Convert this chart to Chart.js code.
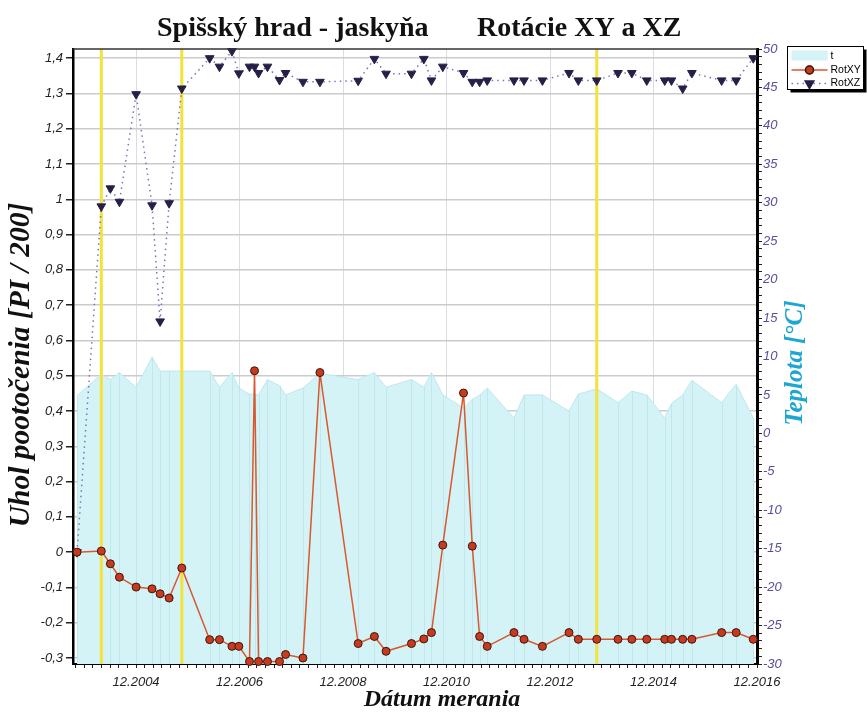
<!DOCTYPE html>
<html>
<head>
<meta charset="utf-8">
<title>Spišský hrad - jaskyňa</title>
<script src="https://cdn.jsdelivr.net/npm/chart.js@4.4.1/dist/chart.umd.min.js"></script>
<style>
  html, body { margin: 0; padding: 0; background: #fff; }
  canvas { display: block; }
</style>
</head>
<body>
<canvas id="chart" width="867" height="713"></canvas>
<script>
// measurement dates, shared by all three series
const dates = [
  '2003-10-10', '2004-03-29', '2004-06-02', '2004-08-05', '2004-12-01', '2005-03-22',
  '2005-05-18', '2005-07-21', '2005-10-19', '2006-05-03', '2006-07-11', '2006-10-08',
  '2006-11-26', '2007-02-10', '2007-03-15', '2007-04-13', '2007-06-15', '2007-09-09',
  '2007-10-21', '2008-02-22', '2008-06-20', '2009-03-16', '2009-07-09', '2009-09-30',
  '2010-03-27', '2010-06-23', '2010-08-16', '2010-11-05', '2011-03-29', '2011-05-30',
  '2011-07-21', '2011-09-14', '2012-03-20', '2012-05-30', '2012-10-08', '2013-04-13',
  '2013-06-18', '2013-10-26', '2014-03-24', '2014-06-30', '2014-10-14', '2015-02-19',
  '2015-04-06', '2015-06-24', '2015-08-28', '2016-03-25', '2016-07-06', '2016-11-05'
];

// rotations [PI / 200]
const rotXY = [
  0, 0.003, -0.033, -0.071, -0.099, -0.104, -0.118, -0.130, -0.045,
  -0.248, -0.248, -0.267, -0.267, -0.310, 0.514, -0.310, -0.310, -0.310, -0.290,
  -0.300, 0.509,
  -0.259, -0.239, -0.281,
  -0.259, -0.246, -0.228, 0.020,
  0.451, 0.017, -0.239, -0.267,
  -0.228, -0.247, -0.267,
  -0.228, -0.247, -0.247,
  -0.247, -0.247, -0.247,
  -0.247, -0.247, -0.247, -0.247,
  -0.228, -0.228, -0.247
];
const rotXZ = [
  0, 0.980, 1.031, 0.993, 1.298, 0.983, 0.654, 0.989, 1.314,
  1.400, 1.376, 1.420, 1.357, 1.376, 1.376, 1.358, 1.376, 1.338, 1.358,
  1.333, 1.333,
  1.336, 1.398, 1.356,
  1.356, 1.398, 1.337, 1.376,
  1.358, 1.333, 1.333, 1.337,
  1.337, 1.337, 1.337,
  1.358, 1.337, 1.337,
  1.358, 1.358, 1.337,
  1.337, 1.337, 1.314, 1.358,
  1.337, 1.337, 1.400
];
// temperature [°C]
const teplota = [
  4.9, 7.7, 7.0, 7.9, 6.0, 9.9, 8.1, 8.1, 8.1,
  8.1, 6.0, 7.9, 5.9, 5.1, 5.1, 5.0, 7.0, 6.2, 5.0,
  5.9, 7.8,
  7.0, 7.9, 6.0,
  7.0, 6.0, 7.9, 5.0,
  3.3, 4.4, 5.0, 5.9,
  2.0, 5.0, 5.0,
  2.9, 5.1, 5.8,
  4.0, 5.5, 5.0,
  2.0, 3.9, 5.0, 6.9,
  4.0, 6.4, 2.0
];

// yellow marker lines
const markDates = ['2004-03-29', '2005-10-19', '2013-10-26'];

const xRange = ['2003-09-12', '2016-12-01'];
const leftRange = [-0.317, 1.426];
const rightRange = [-30, 50];

// date -> month number (12.2004 == 60)
function monthNo(d) {
  const [y, m, day] = d.split('-').map(Number);
  return (y - 2000) * 12 + m + (day - 1) / 30;
}
const pts = vals => dates.map((d, i) => ({ x: monthNo(d), y: vals[i] }));
const isMajorX = v => Math.abs(v % 24 - 12) < 1e-6;

const sans = '"Liberation Sans", Arial, sans-serif';
const serif = '"Liberation Serif", "Times New Roman", serif';
const tickFont = { family: sans, size: 13, style: 'italic' };

const AREA = '#d4f3f6';
const XY_LINE = '#d8582f';
const XZ_LINE = '#7d72b8';

const extras = {
  id: 'extras',
  afterDatasetDraw(chart, args) {
    if (chart.data.datasets[args.index].label !== 't') return;
    const { ctx, chartArea: a, scales: { x, y2 } } = chart;
    ctx.save();
    ctx.beginPath();
    ctx.rect(a.left, a.top, a.right - a.left, a.bottom - a.top);
    ctx.clip();
    // vertical lines under each temperature point
    ctx.beginPath();
    ctx.strokeStyle = '#bfe7ec';
    ctx.lineWidth = 1;
    dates.forEach((d, i) => {
      const px = Math.round(x.getPixelForValue(monthNo(d))) + 0.5;
      ctx.moveTo(px, a.bottom);
      ctx.lineTo(px, y2.getPixelForValue(teplota[i]));
    });
    ctx.stroke();
    // yellow marks
    ctx.beginPath();
    ctx.strokeStyle = '#f3e23a';
    ctx.lineWidth = 3;
    markDates.forEach(d => {
      const px = x.getPixelForValue(monthNo(d));
      ctx.moveTo(px, a.top);
      ctx.lineTo(px, a.bottom);
    });
    ctx.stroke();
    ctx.restore();
  },
  afterDraw(chart) {
    const { ctx, chartArea: a } = chart;
    ctx.save();
    // top frame
    ctx.strokeStyle = '#333';
    ctx.lineWidth = 1.5;
    ctx.beginPath();
    ctx.moveTo(a.left, a.top);
    ctx.lineTo(a.right, a.top);
    ctx.stroke();

    // title
    ctx.fillStyle = '#111';
    ctx.textBaseline = 'alphabetic';
    ctx.textAlign = 'left';
    ctx.font = 'bold 28px ' + serif;
    ctx.fillText('Spišský hrad - jaskyňa', 157, 36);
    ctx.fillText('Rotácie XY a XZ', 477, 36);

    // axis titles
    ctx.textAlign = 'center';
    ctx.font = 'italic bold 24px ' + serif;
    ctx.fillText('Dátum merania', 442, 706);

    ctx.textBaseline = 'middle';
    ctx.save();
    ctx.translate(21, 365);
    ctx.rotate(-Math.PI / 2);
    ctx.font = 'italic bold 29.5px ' + serif;
    ctx.fillText('Uhol pootočenia [PI / 200]', 0, 0);
    ctx.restore();

    ctx.save();
    ctx.translate(796, 363);
    ctx.rotate(-Math.PI / 2);
    ctx.fillStyle = '#1ea6d2';
    ctx.font = 'italic bold 25px ' + serif;
    ctx.fillText('Teplota [°C]', 0, 0);
    ctx.restore();

    // legend
    const L = 787.5, T = 46.5, W = 76, H = 43;
    ctx.fillStyle = '#000';
    ctx.fillRect(L + 3, T + 3, W, H);
    ctx.fillStyle = '#fff';
    ctx.fillRect(L, T, W, H);
    ctx.strokeStyle = '#000';
    ctx.lineWidth = 1;
    ctx.strokeRect(L, T, W, H);

    ctx.fillStyle = AREA;
    ctx.fillRect(L + 4, T + 4, 36, 10);

    ctx.strokeStyle = XY_LINE;
    ctx.lineWidth = 1.5;
    ctx.beginPath();
    ctx.moveTo(L + 4, T + 23.5);
    ctx.lineTo(L + 40, T + 23.5);
    ctx.stroke();
    Chart.helpers.drawPoint(ctx, { pointStyle: 'circle', radius: 4, borderWidth: 1 }, L + 22, T + 23.5);
    ctx.fillStyle = '#c73a1e';
    ctx.strokeStyle = '#3d1710';
    ctx.fill();
    ctx.stroke();

    ctx.strokeStyle = XZ_LINE;
    ctx.setLineDash([1.5, 4]);
    ctx.beginPath();
    ctx.moveTo(L + 4, T + 37);
    ctx.lineTo(L + 40, T + 37);
    ctx.stroke();
    ctx.setLineDash([]);
    ctx.fillStyle = '#262048';
    ctx.strokeStyle = '#262048';
    Chart.helpers.drawPoint(ctx, { pointStyle: 'triangle', rotation: 180, radius: 5, borderWidth: 1 }, L + 22, T + 37);

    ctx.fillStyle = '#000';
    ctx.textAlign = 'left';
    ctx.textBaseline = 'middle';
    ctx.font = '10.5px ' + sans;
    ctx.fillText('t', L + 43, T + 9.5);
    ctx.fillText('RotXY', L + 43, T + 23.5);
    ctx.fillText('RotXZ', L + 43, T + 37);
    ctx.restore();
  }
};

new Chart(document.getElementById('chart'), {
  type: 'line',
  data: {
    datasets: [
      {
        label: 'RotXY',
        data: pts(rotXY),
        yAxisID: 'y',
        order: 1,
        borderColor: XY_LINE,
        borderWidth: 1.5,
        pointRadius: 4,
        pointBackgroundColor: '#c73a1e',
        pointBorderColor: '#3d1710',
        pointBorderWidth: 1,
        tension: 0,
        clip: false
      },
      {
        label: 'RotXZ',
        data: pts(rotXZ),
        yAxisID: 'y',
        order: 2,
        borderColor: XZ_LINE,
        borderWidth: 1.5,
        borderDash: [1.5, 4],
        pointStyle: 'triangle',
        pointRotation: 180,
        pointRadius: 5,
        pointBackgroundColor: '#262048',
        pointBorderColor: '#262048',
        pointBorderWidth: 1,
        tension: 0,
        clip: false
      },
      {
        label: 't',
        data: pts(teplota),
        yAxisID: 'y2',
        order: 3,
        fill: 'start',
        backgroundColor: AREA,
        borderColor: '#bfe7ec',
        borderWidth: 1,
        pointRadius: 0,
        tension: 0
      }
    ]
  },
  options: {
    responsive: false,
    animation: false,
    layout: { padding: { top: 49, left: 0, right: 0, bottom: 0 } },
    plugins: {
      legend: { display: false },
      title: { display: false },
      tooltip: { enabled: false }
    },
    scales: {
      x: {
        type: 'linear',
        min: monthNo(xRange[0]),
        max: monthNo(xRange[1]),
        afterFit: s => { s.height = 49; },
        border: { color: '#000', width: 2 },
        grid: {
          color: c => c.tick && isMajorX(c.tick.value) ? '#d6dfe3' : 'rgba(0,0,0,0)',
          tickColor: '#222',
          tickLength: 4,
          lineWidth: 1
        },
        ticks: {
          stepSize: 2,
          includeBounds: false,
          autoSkip: false,
          maxRotation: 0,
          padding: 7,
          color: '#222',
          font: tickFont,
          callback: v => isMajorX(v) ? '12.' + (2000 + (v - 12) / 12) : ''
        }
      },
      y: {
        position: 'left',
        min: leftRange[0],
        max: leftRange[1],
        afterFit: s => { s.width = 73; },
        border: { color: '#000', width: 2.5 },
        grid: { color: '#cbcbcb', lineWidth: 1.5, tickColor: '#222', tickLength: 7 },
        ticks: {
          stepSize: 0.1,
          includeBounds: false,
          autoSkip: false,
          padding: 3,
          color: '#222',
          font: tickFont,
          callback: v => String(+v.toFixed(1)).replace('.', ',')
        }
      },
      y2: {
        position: 'right',
        min: rightRange[0],
        max: rightRange[1],
        afterFit: s => { s.width = 110; },
        border: { color: '#000', width: 3 },
        grid: { drawOnChartArea: false, tickColor: '#222', tickLength: 5 },
        ticks: {
          stepSize: 1,
          autoSkip: false,
          padding: 1,
          color: '#5b4b9b',
          font: tickFont,
          callback: v => v % 5 === 0 ? String(v) : ''
        }
      }
    }
  },
  plugins: [extras]
});
</script>
</body>
</html>
